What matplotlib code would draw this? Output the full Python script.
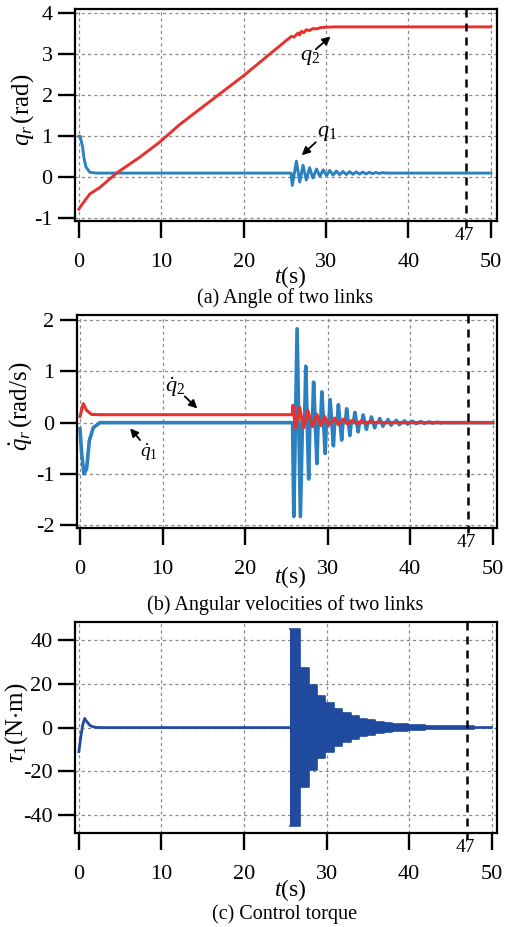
import numpy as np
import matplotlib
matplotlib.use("Agg")
import matplotlib.pyplot as plt
import matplotlib.transforms as mtransforms

plt.rcParams['font.family'] = ['Liberation Serif', 'DejaVu Serif']
plt.rcParams['mathtext.fontset'] = 'custom'
plt.rcParams['mathtext.rm'] = 'Liberation Serif'
plt.rcParams['mathtext.it'] = 'Liberation Serif:italic'
plt.rcParams['axes.unicode_minus'] = False

RED = '#e8302c'
BLUE = '#2b80c0'
DARK = '#1f4a9e'

# (a) joint angles
q1_t = [0, 0.15, 0.45, 0.6, 0.85, 1.33, 2.1, 25.75,
        25.9, 26.4, 26.8, 27.2, 27.6, 28.0, 28.4, 28.85, 29.25, 29.65, 30.05, 30.45,
        30.85, 31.25, 31.65, 32.05, 32.45, 32.85, 33.25, 33.65, 34.05, 34.45, 34.85,
        35.25, 35.65, 36.05, 36.45, 36.85, 37.3, 50]
q1_v = [1.0, 1.0, 0.74, 0.49, 0.25, 0.12, 0.1, 0.1,
        -0.2, 0.39, -0.12, 0.29, -0.07, 0.23, -0.02, 0.2, 0.02, 0.18, 0.04, 0.165,
        0.05, 0.15, 0.06, 0.14, 0.065, 0.135, 0.07, 0.13, 0.075, 0.125, 0.08,
        0.12, 0.085, 0.115, 0.09, 0.11, 0.1, 0.1]
q2_t = [0, 0.4, 0.73, 1.33, 2.55, 4.57, 7.4, 9.83, 12.26, 20, 24.4, 25.8, 26.1, 26.6,
        26.8, 27.0, 27.3, 27.6, 28.0, 28.4, 28.85, 29.3, 29.85, 31, 50]
q2_v = [-0.78, -0.66, -0.57, -0.41, -0.25, 0.1, 0.49, 0.86, 1.29, 2.48, 3.21, 3.44, 3.42,
        3.52, 3.47, 3.56, 3.53, 3.6, 3.58, 3.63, 3.62, 3.65, 3.66, 3.67, 3.67]

# (b) angular velocities
q1d_t = [0, 0.2, 0.48, 0.8, 1.13, 1.6, 2.4, 25.75, 25.9, 26.3, 26.7, 26.95,
         27.2, 27.35, 27.7, 27.85,
         28.15, 28.3, 28.7, 28.85,
         29.15, 29.3, 29.7, 29.85,
         30.15, 30.3, 30.7, 30.85,
         31.15, 31.3, 31.7, 31.85,
         32.15, 32.3, 32.7, 32.85,
         33.15, 33.3, 33.7, 33.85,
         34.15, 34.3, 34.7, 34.85,
         35.15, 35.3, 35.7, 35.85,
         36.15, 36.3, 36.7, 36.85,
         37.15, 37.3, 37.7, 37.85,
         38.15, 38.3, 38.7, 38.85,
         39.15, 39.3, 39.7, 39.85,
         40.15, 40.3, 40.7, 40.85,
         41.15, 41.3, 41.7, 41.85,
         42.15, 42.3, 42.7, 42.85,
         43.15, 43.3, 43.7, 43.85,
         50]
q1d_v = [-0.12, -0.6, -1.0, -0.9, -0.35, -0.1, 0, 0, -1.83, 1.83, -1.83, 0,
         0, 1.1, -1.1, 0,
         0, 0.79, -0.8, 0,
         0, 0.6, -0.6, 0,
         0, 0.45, -0.45, 0,
         0, 0.35, -0.34, 0,
         0, 0.27, -0.25, 0,
         0, 0.2, -0.18, 0,
         0, 0.15, -0.13, 0,
         0, 0.11, -0.1, 0,
         0, 0.08, -0.07, 0,
         0, 0.06, -0.05, 0,
         0, 0.045, -0.04, 0,
         0, 0.035, -0.03, 0,
         0, 0.025, -0.02, 0,
         0, 0.02, -0.015, 0,
         0, 0.015, -0.01, 0,
         0, 0.01, -0.008, 0,
         0]
q2d_t = [0, 0.4, 0.8, 1.4, 2.5, 25.7, 25.8, 26.1, 26.6, 27.1, 27.6, 28.15, 28.7, 29.15,
         29.65, 30.15, 30.85, 31.3, 31.9, 32.45, 33.0, 33.5, 34.1, 34.6, 35.15, 35.7,
         36.2, 36.8, 37.5, 50]
q2d_v = [0.12, 0.37, 0.24, 0.16, 0.155, 0.155, 0.34, -0.1, 0.3, -0.1, 0.24, -0.08, 0.16,
         -0.06, 0.12, -0.05, 0.09, -0.04, 0.07, -0.03, 0.05, -0.02, 0.035, -0.015, 0.025,
         -0.01, 0.015, -0.005, 0, 0]

# (c) control torque
tau_t = [0, 0.2, 0.45, 0.7, 1.0, 1.4, 2.0, 2.5, 25.6]
tau_v = [-11, -5, 1, 4.2, 2.5, 0.8, 0.1, 0, 0]
tau_edges = [25.6, 26.8, 27.9, 28.85, 29.85, 30.9, 31.9, 32.9, 33.9, 34.9, 35.9, 36.9,
             37.9, 38.9, 39.9, 40.9, 41.9, 42.9, 43.9, 44.9, 45.9, 46.9, 47.9, 48.9, 50]
tau_upper = [45.2, 27.1, 19.5, 14.5, 11.1, 8.5, 6.6, 5.2, 4.0, 3.3, 2.7, 2.2, 1.8, 1.5,
             1.2, 1.0, 0.9, 0.8, 0.7, 0.6, 0.55, 0.5, 0.45, 0.4]
tau_lower = [-45.2, -27, -19.3, -14, -11, -8.2, -6.4, -5, -4, -3.2, -2.6, -2.1, -1.7,
             -1.4, -1.1, -0.9, -0.8, -0.7, -0.6, -0.55, -0.5, -0.45, -0.4, -0.35]

fig = plt.figure(figsize=(5.06, 9.27), dpi=100)
W, H = 506, 927

ax_a = fig.add_axes([0.148, 0.7616, 0.834, 0.2284])
ax_b = fig.add_axes([0.1516, 0.4307, 0.830, 0.2295])
ax_c = fig.add_axes([0.148, 0.1014, 0.8336, 0.2279])


def style(ax, xlim, ylim, yticks):
    ax.set_xlim(*xlim)
    ax.set_ylim(*ylim)
    ax.set_xticks([0, 10, 20, 30, 40, 50])
    ax.set_yticks(yticks)
    ax.grid(True, color='#8a8a8a', lw=0.9, linestyle=(0, (2.5, 2.5)))
    ax.set_axisbelow(True)
    for s in ax.spines.values():
        s.set_linewidth(1.6)
    ax.tick_params(direction='out', length=12, width=1.7, labelsize=16, pad=4)
    ax.tick_params(axis='x', pad=11)
    # dashed marker line at t = 47
    ax.plot([47, 47], [ylim[1], ylim[0] - 0.03 * (ylim[1] - ylim[0])], color='black',
            lw=1.8, dashes=(3.2, 2.4), clip_on=False, zorder=5)
    trans = mtransforms.blended_transform_factory(ax.transData, ax.transAxes)
    ax.text(46.8, -0.03, '47', transform=trans, ha='center', va='top', fontsize=14)


style(ax_a, (-0.485, 50.73), (-1.07, 4.1), [-1, 0, 1, 2, 3, 4])
style(ax_b, (-0.4, 50.48), (-2.05, 2.1), [-2, -1, 0, 1, 2])
style(ax_c, (-0.485, 50.6), (-48.2, 48.4), [-40, -20, 0, 20, 40])

# panel (a)
ax_a.plot(q1_t, q1_v, color=BLUE, lw=2.1)
ax_a.plot(q2_t, q2_v, color=RED, lw=2.1)
arrow = dict(arrowstyle='-|>', color='black', lw=1.3, mutation_scale=12)
ax_a.annotate('', xy=(30.8, 3.48), xytext=(28.5, 3.08), arrowprops=arrow)
ax_a.text(28.0, 2.92, r'$q_2$', fontsize=16, ha='center', va='center')
ax_a.annotate('', xy=(26.8, 0.49), xytext=(29.0, 0.9), arrowprops=arrow)
ax_a.text(30.1, 1.07, r'$q_1$', fontsize=16, ha='center', va='center')

# panel (b)
ax_b.plot(q1d_t, q1d_v, color=BLUE, lw=2.6)
ax_b.plot(q2d_t, q2d_v, color=RED, lw=2.2)
ax_b.annotate('', xy=(14.45, 0.24), xytext=(12.45, 0.55), arrowprops=arrow)
ax_b.text(11.5, 0.7, r'$\dot{q}_2$', fontsize=16, ha='center', va='center')
ax_b.annotate('', xy=(5.85, -0.07), xytext=(7.5, -0.38), arrowprops=arrow)
ax_b.text(8.3, -0.57, r'$\dot{q}_1$', fontsize=14, ha='center', va='center')

# panel (c)
ax_c.plot(tau_t, tau_v, color=DARK, lw=2.0)
ax_c.fill_between(tau_edges, tau_lower + [tau_lower[-1]], tau_upper + [tau_upper[-1]],
                  step='post', color=DARK, lw=0)
ax_c.step(tau_edges, tau_upper + [tau_upper[-1]], where='post', color=DARK, lw=1.2)
ax_c.step(tau_edges, tau_lower + [tau_lower[-1]], where='post', color=DARK, lw=1.2)

# axis labels and captions
fig.text(23 / W, 1 - 110 / H, r'$q_r\,$(rad)', rotation=90, fontsize=18,
         ha='center', va='center')
fig.text(21 / W, 1 - 406 / H, r'$\dot{q}_r\,$(rad/s)', rotation=90, fontsize=18,
         ha='center', va='center')
fig.text(17 / W, 1 - 723 / H, r'$\tau_1$(N$\cdot$m)', rotation=90, fontsize=18,
         ha='center', va='center')

for y_lab, y_cap, cap in [(277, 298, '(a) Angle of two links'),
                          (577, 605, '(b) Angular velocities of two links'),
                          (890, 914, '(c) Control torque')]:
    fig.text(290 / W, 1 - y_lab / H, r'$t$(s)', fontsize=17, ha='center', va='center')
    fig.text(285 / W, 1 - y_cap / H, cap, fontsize=14.5, ha='center', va='center')

fig.savefig('out.png', dpi=100)
